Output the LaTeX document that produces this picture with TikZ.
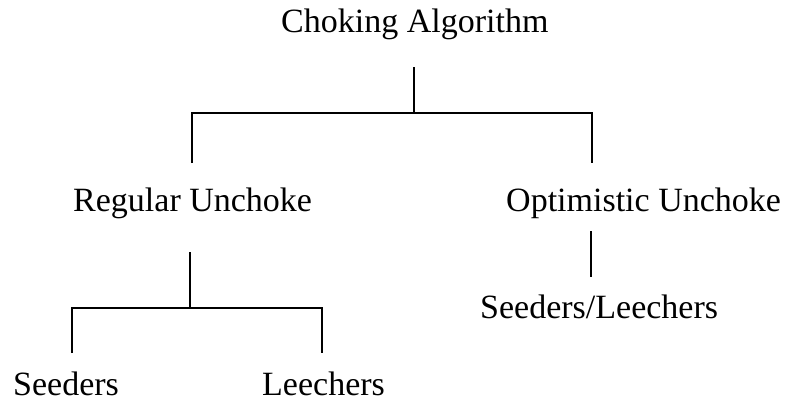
\documentclass[tikz,border=0pt]{standalone}
\usepackage{fontspec}
\setmainfont{Liberation Serif}
\begin{document}
\begin{tikzpicture}[x=1pt,y=1pt,
  label/.style={inner sep=0pt,anchor=base west,font=\fontsize{34}{40}\selectfont},
  tree/.style={line width=2.6pt,line join=miter}]
\useasboundingbox (0,0) rectangle (786,-404);

% labels
\node[label] (root) at (281,-33) {Choking Algorithm};
\node[label] (reg) at (73,-211) {Regular Unchoke};
\node[label] (opt) at (506,-211) {Optimistic Unchoke};
\node[label] (seed) at (13,-395) {Seeders};
\node[label] (leech) at (262,-395) {Leechers};
\node[label] (sl) at (480,-318) {Seeders/Leechers};

% junction points of the first bracket
\coordinate (r0) at (414,-67);
\coordinate (r1) at (414,-113);
\coordinate (rl) at (192,-113);
\coordinate (rr) at (592,-113);
\coordinate (rlb) at (192,-163);
\coordinate (rrb) at (592,-163);

% junction points under Regular Unchoke
\coordinate (g0) at (190,-252);
\coordinate (g1) at (190,-308);
\coordinate (gl) at (72,-308);
\coordinate (gr) at (322,-308);
\coordinate (glb) at (72,-353);
\coordinate (grb) at (322,-353);

% stub under Optimistic Unchoke
\coordinate (o0) at (591,-231);
\coordinate (o1) at (591,-277);

\draw[tree] (r0) -- (r1);
\draw[tree] (rlb) -- (rl) -- (rr) -- (rrb);
\draw[tree] (g0) -- (g1);
\draw[tree] (glb) -- (gl) -- (gr) -- (grb);
\draw[tree] (o0) -- (o1);
\end{tikzpicture}
\end{document}
